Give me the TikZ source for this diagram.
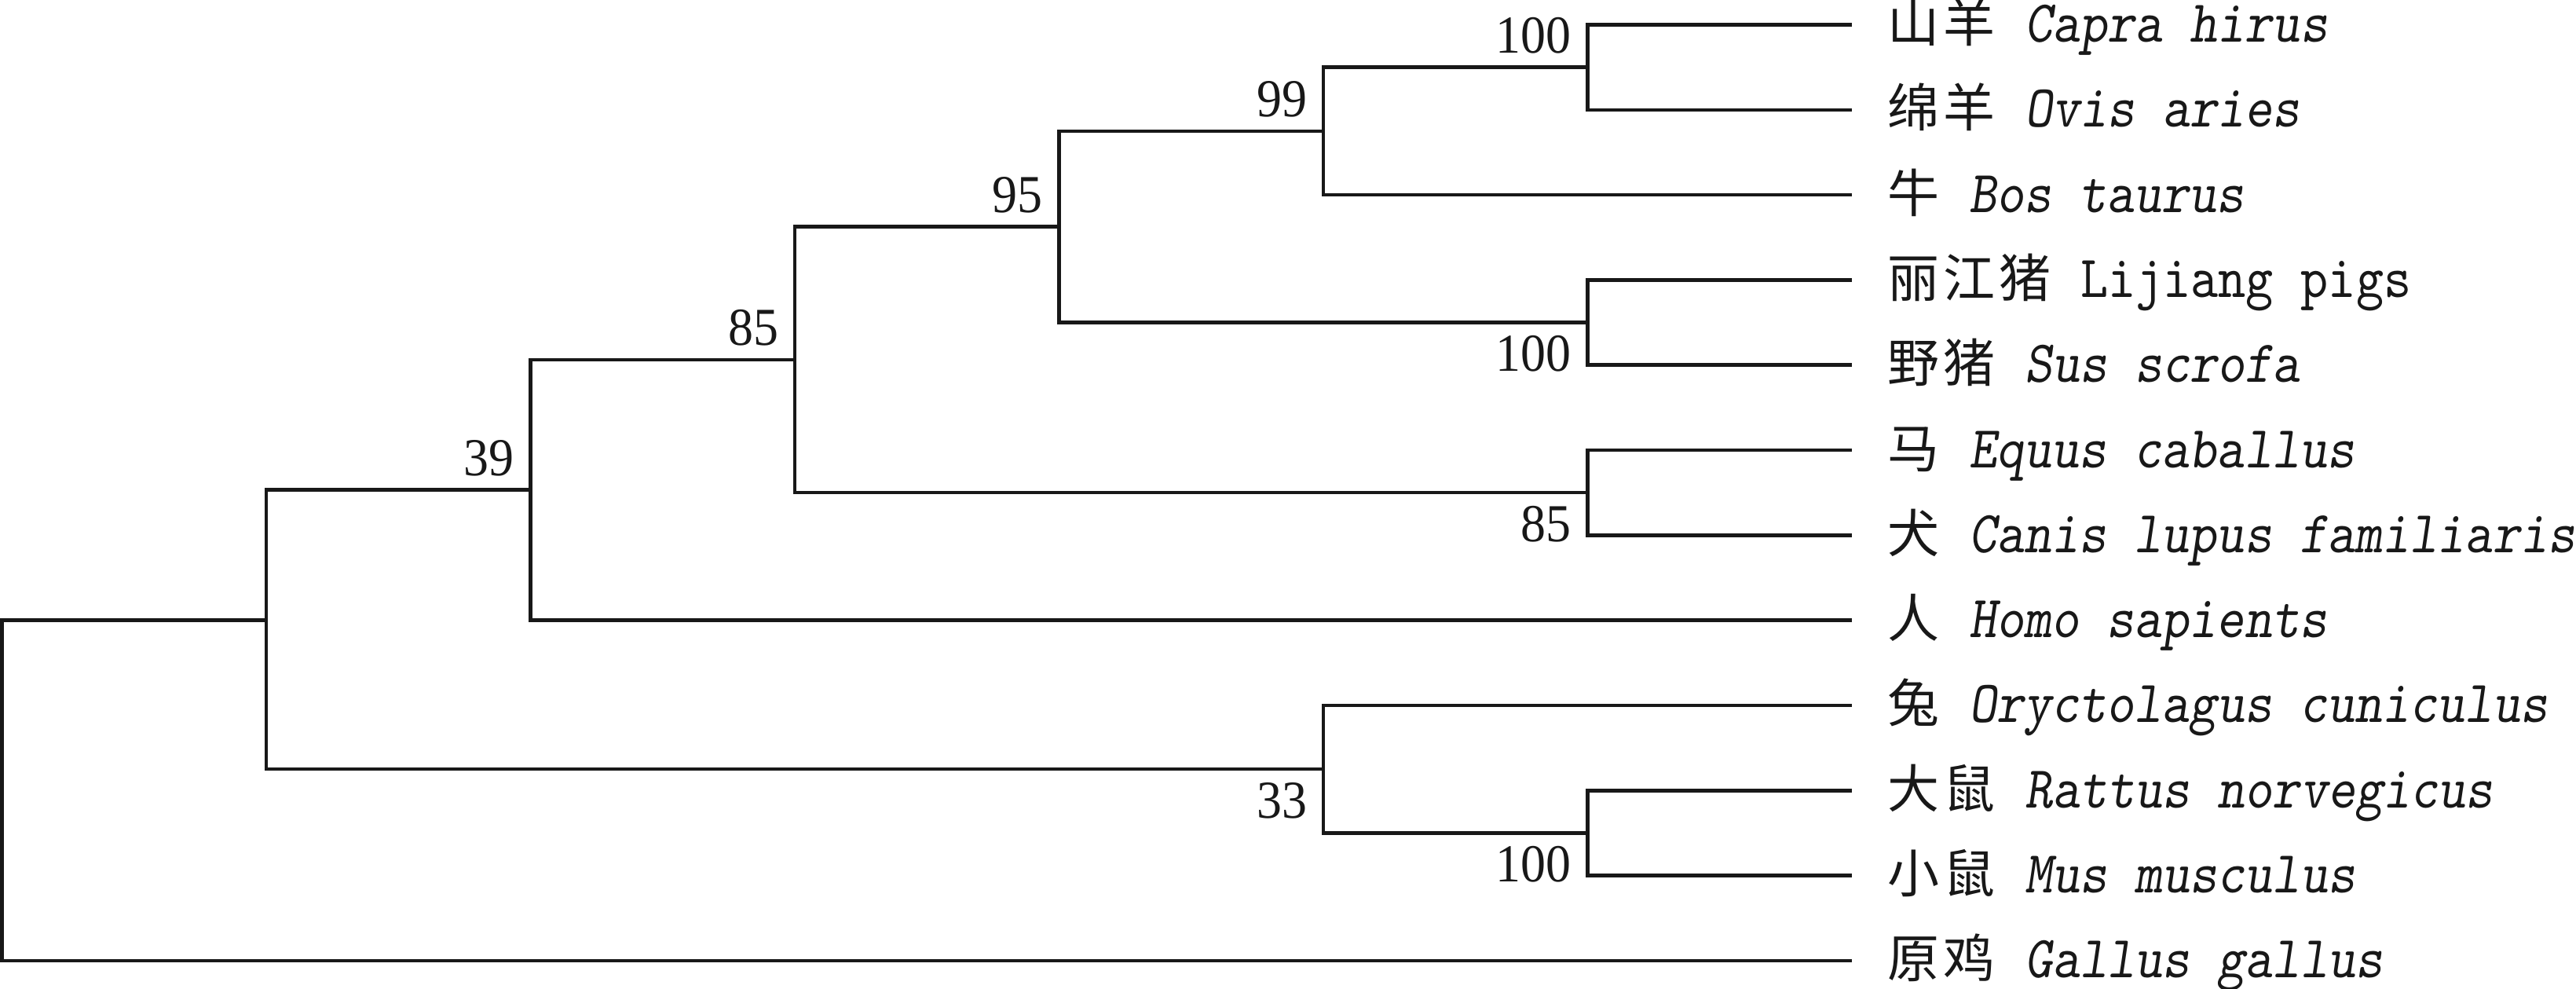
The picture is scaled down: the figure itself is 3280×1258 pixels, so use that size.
\documentclass[tikz,border=0pt]{standalone}
\usepackage{fontspec}
\usetikzlibrary{calc}
\newfontfamily\cjk{Noto Sans CJK SC}
\newfontfamily\lmono{lmmono10-regular}[Extension=.otf, ItalicFont=lmmonoslant10-regular, FakeStretch=0.88]
\newfontfamily\numfont{Liberation Serif}[FakeStretch=0.94]
\definecolor{ink}{RGB}{24,24,24}
\newcommand{\C}[1]{\makebox[17.75pt][c]{\cjk\fontsize{16.5pt}{16.5pt}\selectfont #1}}
\newcommand{\Sp}{\hspace*{8.8pt}}
\newcommand{\Li}[1]{{\lmono\fontsize{19pt}{19pt}\selectfont\itshape #1}}
\newcommand{\Lu}[1]{{\lmono\fontsize{19pt}{19pt}\selectfont #1}}
\begin{document}
\begin{tikzpicture}[x=0.25pt,y=-0.25pt,
  br/.style={draw=ink,line width=1.15pt,line join=miter},
  leaf/.style={anchor=base west,inner sep=0pt,text=ink},
  bs/.style={anchor=base east,inner sep=0pt,text=ink,font={\numfont\fontsize{17pt}{17pt}\selectfont}}]
\useasboundingbox (0,0) rectangle (3280,1258);
% leaf ends
\foreach \i in {0,...,11} { \coordinate (t\i) at (2358,{31.5+108.3*\i}); }
% internal nodes
\coordinate (F) at (2021.5,85.65);
\coordinate (E) at (1685,166.9);
\coordinate (G) at (2021.5,410.55);
\coordinate (D) at (1348.5,288.7);
\coordinate (H) at (2021.5,627.15);
\coordinate (C) at (1012,457.9);
\coordinate (B) at (675.5,623.75);
\coordinate (J) at (2021.5,1060.35);
\coordinate (I) at (1685,979.1);
\coordinate (A) at (339,789.6);
\coordinate (R) at (2.5,789.6);
% branches
\draw[br] (t0) -| (F) |- (t1);
\draw[br] (F) -| (E) |- (t2);
\draw[br] (t3) -| (G) |- (t4);
\draw[br] (E) -| (D) |- (G);
\draw[br] (t5) -| (H) |- (t6);
\draw[br] (D) -| (C) |- (H);
\draw[br] (C) -| (B) |- (t7);
\draw[br] (t9) -| (J) |- (t10);
\draw[br] (t8) -| (I) |- (J);
\draw[br] (B) -| (A) |- (I);
\draw[br] (A) -| (R) |- (t11);
% bootstrap values
\node[bs] (bF) at ($(F)+(-20,-18)$) {100};
\node[bs] (bE) at ($(E)+(-20,-18)$) {99};
\node[bs] (bD) at ($(D)+(-20,-18)$) {95};
\node[bs] (bC) at ($(C)+(-20,-18)$) {85};
\node[bs] (bB) at ($(B)+(-20,-18)$) {39};
\node[bs] (bG) at ($(G)+(-20,62)$) {100};
\node[bs] (bH) at ($(H)+(-20,62)$) {85};
\node[bs] (bI) at ($(I)+(-20,62)$) {33};
\node[bs] (bJ) at ($(J)+(-20,62)$) {100};
% leaf labels
\node[leaf] (l0) at ($(t0)+(42,22)$) {\C{山}\C{羊}\Sp\Li{Capra hirus}};
\node[leaf] (l1) at ($(t1)+(42,22)$) {\C{绵}\C{羊}\Sp\Li{Ovis aries}};
\node[leaf] (l2) at ($(t2)+(42,22)$) {\C{牛}\Sp\Li{Bos taurus}};
\node[leaf] (l3) at ($(t3)+(42,22)$) {\C{丽}\C{江}\C{猪}\Sp\Lu{Lijiang pigs}};
\node[leaf] (l4) at ($(t4)+(42,22)$) {\C{野}\C{猪}\Sp\Li{Sus scrofa}};
\node[leaf] (l5) at ($(t5)+(42,22)$) {\C{马}\Sp\Li{Equus caballus}};
\node[leaf] (l6) at ($(t6)+(42,22)$) {\C{犬}\Sp\Li{Canis lupus familiaris}};
\node[leaf] (l7) at ($(t7)+(42,22)$) {\C{人}\Sp\Li{Homo sapients}};
\node[leaf] (l8) at ($(t8)+(42,22)$) {\C{兔}\Sp\Li{Oryctolagus cuniculus}};
\node[leaf] (l9) at ($(t9)+(42,22)$) {\C{大}\C{鼠}\Sp\Li{Rattus norvegicus}};
\node[leaf] (l10) at ($(t10)+(42,22)$) {\C{小}\C{鼠}\Sp\Li{Mus musculus}};
\node[leaf] (l11) at ($(t11)+(42,22)$) {\C{原}\C{鸡}\Sp\Li{Gallus gallus}};
\end{tikzpicture}
\end{document}
